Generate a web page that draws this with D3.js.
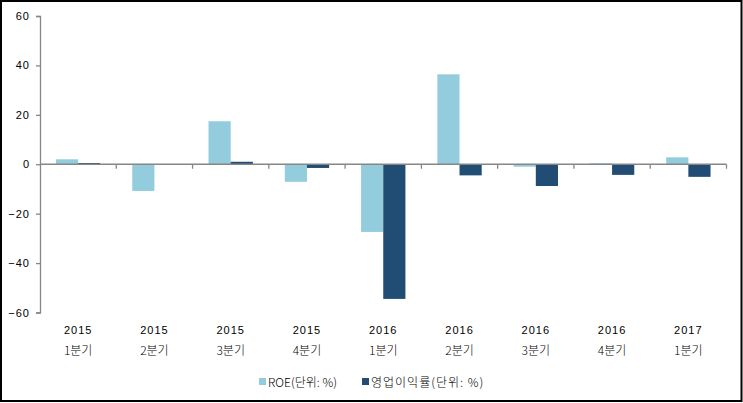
<!DOCTYPE html>
<html>
<head>
<meta charset="utf-8">
<script src="https://cdn.jsdelivr.net/npm/d3@7"></script>
<style>
  body { margin: 0; background: #fff; }
  text { font-family: "Noto Sans CJK KR", "DejaVu Sans", sans-serif; fill: #000; }
</style>
</head>
<body>
<svg id="chart"></svg>
<script>
// data
var years = ['2015', '2015', '2015', '2015', '2016', '2016', '2016', '2016', '2017'];
var quarters = ['1분기', '2분기', '3분기', '4분기', '1분기', '2분기', '3분기', '4분기', '1분기'];
var roe = [2.0, -10.8, 17.4, -7.1, -27.4, 36.4, -1.0, 0.4, 2.8];
var opMargin = [0.5, -0.1, 1.0, -1.5, -54.5, -4.5, -8.8, -4.3, -5.1];
var seriesNames = ['ROE(단위: %)', '영업이익률(단위: %)'];
var yTicks = [60, 40, 20, 0, -20, -40, -60];

var colors = ['#93cddd', '#214c74'];
var width = 743, height = 403;
var margin = { top: 16, right: 16, bottom: 90, left: 40 };
var numFont = '"Liberation Sans", Arial, sans-serif';

var svg = d3.select('#chart').attr('width', width).attr('height', height);

svg.append('rect')
    .attr('x', 1).attr('y', 1)
    .attr('width', 740.5).attr('height', 400)
    .attr('fill', '#fff').attr('stroke', '#000').attr('stroke-width', 2);

var idx = d3.range(years.length);

var x = d3.scaleBand()
    .domain(idx)
    .range([margin.left, 726.5])
    .paddingInner(0).paddingOuter(0);

var y = d3.scaleLinear()
    .domain([-60, 60])
    .range([312.5, margin.top]);

var inner = d3.scaleBand()
    .domain([0, 1])
    .range([0, x.bandwidth()])
    .paddingInner(0).paddingOuter(0.72);

var data = [roe, opMargin];

// bars
data.forEach(function(series, s) {
    svg.append('g').selectAll('rect')
        .data(series)
        .join('rect')
        .attr('x', (d, i) => x(i) + inner(s))
        .attr('width', inner.bandwidth())
        .attr('y', d => y(Math.max(0, d)))
        .attr('height', d => Math.abs(y(d) - y(0)))
        .attr('fill', colors[s]);
});

// y axis
var yAxis = svg.append('g')
    .attr('transform', 'translate(' + margin.left + ',0)')
    .call(d3.axisLeft(y).tickValues(yTicks).tickSize(4).tickPadding(6).tickFormat(d3.format('d')));
yAxis.select('.domain').attr('stroke', '#868686').attr('stroke-width', 1.3);
yAxis.selectAll('.tick line').attr('stroke', '#868686').attr('stroke-width', 1.3);
yAxis.selectAll('.tick text')
    .style('font-size', '11px')
    .style('font-family', numFont)
    .style('letter-spacing', '1px');

// x axis at zero line, ticks on category boundaries
var boundaries = idx.map(i => x(i)).concat([x.range()[1]]);
var xg = svg.append('g');
xg.append('line')
    .attr('x1', margin.left).attr('x2', x.range()[1])
    .attr('y1', y(0)).attr('y2', y(0))
    .attr('stroke', '#868686').attr('stroke-width', 1.3);
xg.selectAll('line.tk')
    .data(boundaries.slice(1))
    .join('line')
    .attr('class', 'tk')
    .attr('x1', d => d).attr('x2', d => d)
    .attr('y1', y(0)).attr('y2', y(0) + 4.5)
    .attr('stroke', '#868686').attr('stroke-width', 1.3);

// category labels
var labels = svg.append('g');
labels.selectAll('text.yr')
    .data(years)
    .join('text')
    .attr('class', 'yr')
    .attr('x', (d, i) => x(i) + x.bandwidth() / 2)
    .attr('y', 334)
    .attr('text-anchor', 'middle')
    .style('font-size', '11px')
    .style('font-family', numFont)
    .style('letter-spacing', '1px')
    .text(d => d);
labels.selectAll('text.q')
    .data(quarters)
    .join('text')
    .attr('class', 'q')
    .attr('x', (d, i) => x(i) + x.bandwidth() / 2)
    .attr('y', 355)
    .attr('text-anchor', 'middle')
    .style('font-size', '12px')
    .style('font-weight', 300)
    .text(d => d);

// legend
var legendX = [259, 362];
var legendSpacing = ['0px', '1px'];
var legend = svg.append('g');
seriesNames.forEach(function(name, s) {
    legend.append('rect')
        .attr('x', legendX[s]).attr('y', 378)
        .attr('width', 7).attr('height', 7)
        .attr('fill', colors[s]);
    legend.append('text')
        .attr('x', legendX[s] + 9).attr('y', 386.5)
        .style('font-size', '12px')
        .style('font-weight', 300)
        .style('letter-spacing', legendSpacing[s])
        .text(name);
});
</script>
</body>
</html>
